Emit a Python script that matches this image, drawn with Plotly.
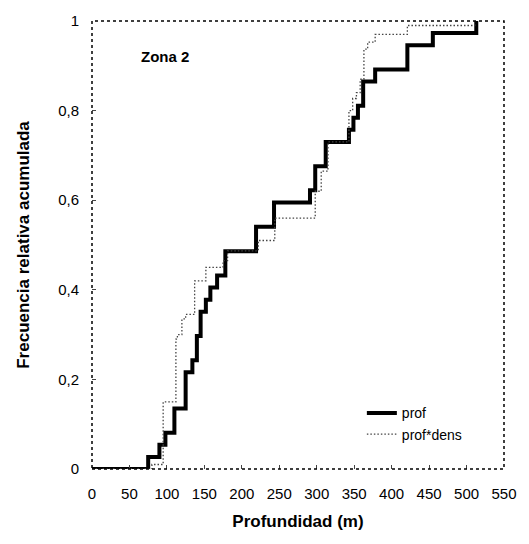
import plotly.graph_objects as go

# ---- data ----
prof_x = [0, 75, 90, 98, 110, 125, 134, 140, 145, 152, 158, 167, 178, 219, 243, 291, 298, 312, 343, 349, 355, 362, 378, 421, 455, 513]
prof_y = [0, 0.027, 0.054, 0.081, 0.135, 0.216, 0.243, 0.297, 0.351, 0.378, 0.405, 0.432, 0.486, 0.541, 0.595, 0.622, 0.676, 0.730, 0.757, 0.784, 0.811, 0.865, 0.892, 0.946, 0.973, 1.0]

dens_x = [0, 80, 95, 112, 114, 120, 125, 137, 152, 175, 181, 222, 244, 298, 306, 315, 343, 348, 353, 358, 363, 368, 378, 421, 511]
dens_y = [0, 0.01, 0.15, 0.29, 0.30, 0.335, 0.345, 0.42, 0.45, 0.465, 0.487, 0.51, 0.56, 0.62, 0.665, 0.73, 0.80, 0.827, 0.84, 0.87, 0.937, 0.953, 0.97, 0.99, 1.0]

x_ticks = [0, 50, 100, 150, 200, 250, 300, 350, 400, 450, 500, 550]
y_ticks = [0, 0.2, 0.4, 0.6, 0.8, 1]
y_tick_labels = ["0", "0,2", "0,4", "0,6", "0,8", "1"]

FONT = "Liberation Sans, Arial, sans-serif"

fig = go.Figure()
fig.add_trace(go.Scatter(x=prof_x, y=prof_y, mode="lines", name="prof",
                         line=dict(color="black", width=4, shape="hv")))
fig.add_trace(go.Scatter(x=dens_x, y=dens_y, mode="lines", name="prof*dens",
                         line=dict(color="#444444", width=1.3, dash="1.5px,2px", shape="hv")))

fig.add_annotation(x=98, y=0.92, xref="x", yref="y", text="<b>Zona 2</b>",
                   showarrow=False, font=dict(family=FONT, size=15, color="black"))

fig.add_shape(type="rect", xref="paper", yref="paper", x0=0, y0=0, x1=1, y1=1,
              line=dict(color="black", width=1.5, dash="dot"), layer="above")

fig.update_layout(
    width=529, height=544,
    margin=dict(l=92, r=18, t=19, b=75),
    paper_bgcolor="white", plot_bgcolor="white",
    font=dict(family=FONT, size=15, color="black"),
    showlegend=True,
    legend=dict(x=0.655, y=0.16, xanchor="left", yanchor="top",
                bgcolor="rgba(0,0,0,0)", font=dict(family=FONT, size=14),
                tracegroupgap=2),
    xaxis=dict(range=[0, 550], tickvals=x_ticks, ticks="inside", ticklen=4,
               showgrid=False, zeroline=False, showline=False,
               ticklabelstandoff=14,
               title=dict(text="<b>Profundidad (m)</b>", font=dict(size=17), standoff=14),
               tickfont=dict(size=15)),
    yaxis=dict(range=[0, 1], tickvals=y_ticks, ticktext=y_tick_labels,
               ticks="inside", ticklen=4, showgrid=False, zeroline=False, showline=False,
               ticklabelstandoff=12,
               title=dict(text="<b>Frecuencia relativa acumulada</b>", font=dict(size=17), standoff=24),
               tickfont=dict(size=15)),
)

fig.write_html("out.html")
